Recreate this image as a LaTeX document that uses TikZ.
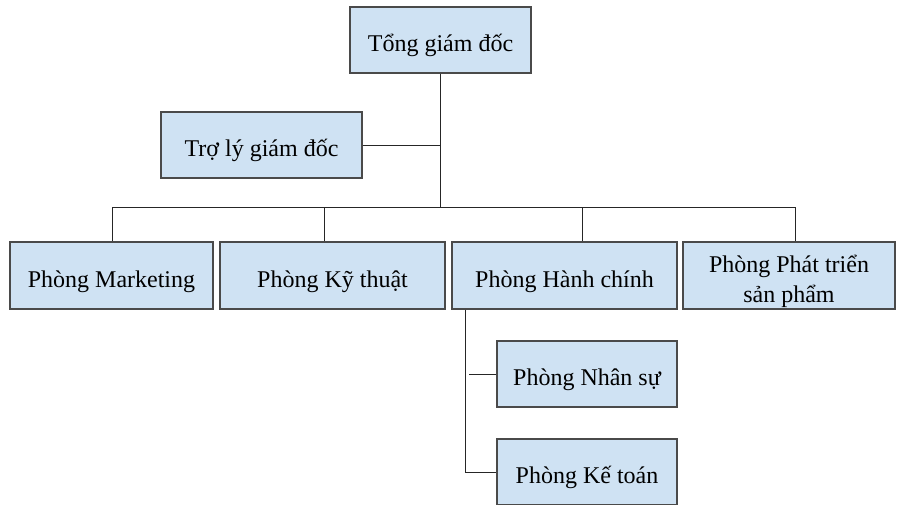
\documentclass[tikz,border=0pt]{standalone}
\usepackage{fontspec}
\setmainfont{Liberation Serif}
\usetikzlibrary{positioning}

\definecolor{boxfill}{HTML}{CFE2F3}
\definecolor{boxline}{HTML}{4A4A4A}

\tikzset{
    orgbox/.style={draw=boxline, line width=1.2pt, fill=boxfill, inner sep=0pt,
        minimum height=66pt, align=center, text height=23pt, text depth=0pt,
        font=\fontsize{24}{30}\selectfont},
    link/.style={draw=black!85, line width=1pt}
}

\begin{document}
\begin{tikzpicture}[x=1pt,y=-1pt]
            % Define dimensions
            \def\busy{207}
            \useasboundingbox (0,0) rectangle (897,504);
            % Top level
            \node[orgbox, minimum width=181pt] (tgd) at (440.5,40) {Tổng giám đốc};
            \node[orgbox, minimum width=201pt] (tly) at (261.5,145) {Trợ lý giám đốc};
            % Departments
            \node[orgbox, minimum width=203pt, minimum height=67pt] (mkt) at (111.5,275.5) {Phòng Marketing};
            \node[orgbox, minimum width=225pt, minimum height=67pt] (kth) at (332.5,275.5) {Phòng Kỹ thuật};
            \node[orgbox, minimum width=225pt, minimum height=67pt] (hct) at (564.5,275.5) {Phòng Hành chính};
            \node[orgbox, minimum width=212pt, minimum height=67pt, text height=53pt] (ptsp) at (789,275.5) {Phòng Phát triển\\sản phẩm};
            % Sub departments
            \node[orgbox, minimum width=180pt] (nsu) at (587,374) {Phòng Nhân sự};
            \node[orgbox, minimum width=180pt] (kto) at (587,472) {Phòng Kế toán};
            % Trunk and bus
            \coordinate (trunk) at (440,\busy);
            \coordinate (busl) at (112,\busy);
            \coordinate (busr) at (795,\busy);
            \draw[link] (tgd.south -| trunk) -- (trunk);
            \draw[link] (tly.east) -- (tly.east -| trunk);
            \draw[link] (busl) -- (busr);
            \foreach \x/\n in {112/mkt, 324/kth, 582/hct, 795/ptsp}
                \draw[link] (\x,\busy) -- (\x,\busy |- \n.north);
            % Branch below Hanh chinh
            \coordinate (hcx) at (465,0);
            \draw[link] (hct.south -| hcx) -- (kto.west -| hcx) -- (kto.west);
            \draw[link] ([xshift=4pt]nsu.west -| hcx) -- (nsu.west);
        \end{tikzpicture}
\end{document}
